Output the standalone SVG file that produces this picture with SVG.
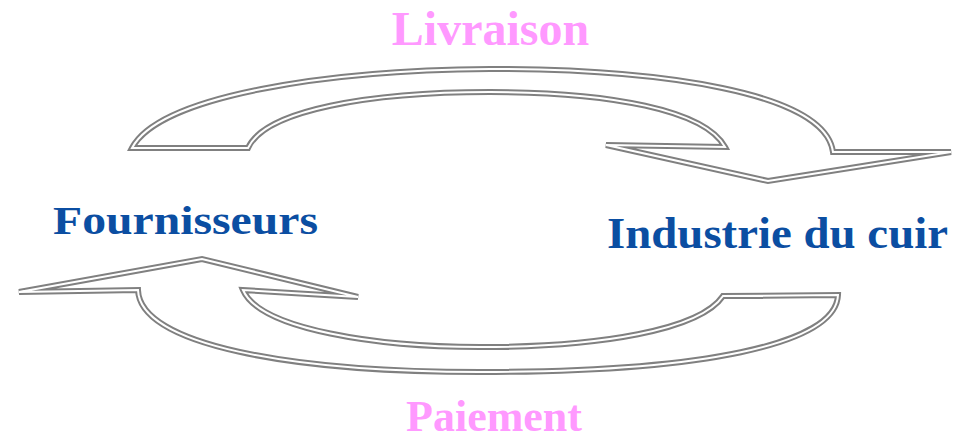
<svg xmlns="http://www.w3.org/2000/svg" width="956" height="441" viewBox="0 0 956 441">
<style>
.outer{fill:#ffffff;stroke:#808080;stroke-width:6;stroke-linejoin:miter;stroke-miterlimit:4}
.inner{fill:none;stroke:#ffffff;stroke-width:2;stroke-linejoin:miter;stroke-miterlimit:4}
.lbl{font-family:"Liberation Serif","Times New Roman",serif;font-weight:bold;fill:#FF99FF}
.node{font-family:"Liberation Serif","Times New Roman",serif;font-weight:bold;fill:#0B4EA2}
</style>
<defs>
<path id="topArrow" d="M132,148 C160,95 330,70 490,69 C660,69 825,92 833,152 L951,152 L768,181 L606,145 L725,147 C705,110 610,92 490,92 C370,92 265,110 248,148 Z"/>
<path id="botArrow" d="M19,292 L202,259 L358,297 L243,290 C260,330 380,347 480,347 C600,347 700,330 723,296 L838,295 C836,345 700,372 480,372 C290,372 140,345 138,290 Z"/>
</defs>
<g id="connectors">
<g id="livraison-arrow">
<use href="#topArrow" class="outer"/>
<use href="#topArrow" class="inner"/>
</g>
<g id="paiement-arrow">
<use href="#botArrow" class="outer"/>
<use href="#botArrow" class="inner"/>
</g>
</g>
<g id="fournisseurs">
<text class="node" x="53" y="234" font-size="41" textLength="265" lengthAdjust="spacingAndGlyphs">Fournisseurs</text>
</g>
<g id="industrie">
<text class="node" x="607" y="248" font-size="45" textLength="341" lengthAdjust="spacingAndGlyphs">Industrie du cuir</text>
</g>
<g id="labels">
<text class="lbl" x="490.5" y="45" font-size="48" text-anchor="middle">Livraison</text>
<text class="lbl" x="494" y="431" font-size="44" text-anchor="middle">Paiement</text>
</g>
</svg>
